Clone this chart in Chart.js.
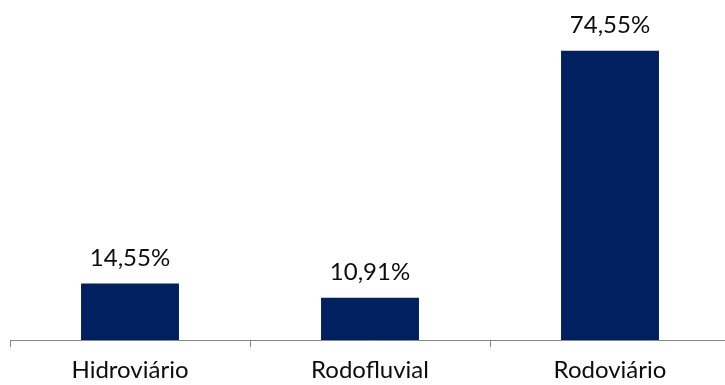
<!DOCTYPE html>
<html>
<head>
<meta charset="utf-8">
<script src="https://cdn.jsdelivr.net/npm/chart.js@4"></script>
<style>
  html, body { margin: 0; padding: 0; background: #fff; overflow: hidden; }
  #wrap { width: 745px; height: 385px; }
</style>
</head>
<body>
<div id="wrap"><canvas id="c" width="745" height="385"></canvas></div>
<script>
// Modal share by transport type (%)
const categories = ['Hidroviário', 'Rodofluvial', 'Rodoviário'];
const shares = [14.55, 10.91, 74.55];

const FONT = 'Lato, Carlito, Calibri, "Open Sans", sans-serif';
const fmt = v => v.toFixed(2).replace('.', ',') + '%';

// Writes each bar's value above it
const valueLabels = {
  id: 'valueLabels',
  afterDatasetsDraw(chart) {
    const ctx = chart.ctx;
    const meta = chart.getDatasetMeta(0);
    ctx.save();
    ctx.font = '24px ' + FONT;
    ctx.fillStyle = '#0d0d0d';
    ctx.textAlign = 'center';
    ctx.textBaseline = 'alphabetic';
    meta.data.forEach((bar, i) => {
      ctx.fillText(fmt(shares[i]), bar.x, bar.y - 18);
    });
    ctx.restore();
  }
};

new Chart(document.getElementById('c'), {
  type: 'bar',
  data: {
    labels: categories,
    datasets: [{
      data: shares,
      backgroundColor: '#002060',
      borderWidth: 0,
      categoryPercentage: 1,
      barPercentage: 0.408
    }]
  },
  options: {
    responsive: false,
    animation: false,
    layout: { padding: { top: 29.5, left: 10, right: 15, bottom: 0 } },
    plugins: { legend: { display: false }, tooltip: { enabled: false } },
    scales: {
      x: {
        grid: {
          drawOnChartArea: false,
          drawTicks: true,
          tickLength: 7,
          color: '#868686',
          lineWidth: 1
        },
        border: { color: '#868686', width: 1 },
        ticks: {
          color: '#0d0d0d',
          font: { family: FONT, size: 24 },
          padding: 9,
          maxRotation: 0
        },
        afterFit(scale) { scale.height = 45; }
      },
      y: {
        display: false,
        min: 0,
        max: 80
      }
    }
  },
  plugins: [valueLabels]
});
</script>
</body>
</html>
